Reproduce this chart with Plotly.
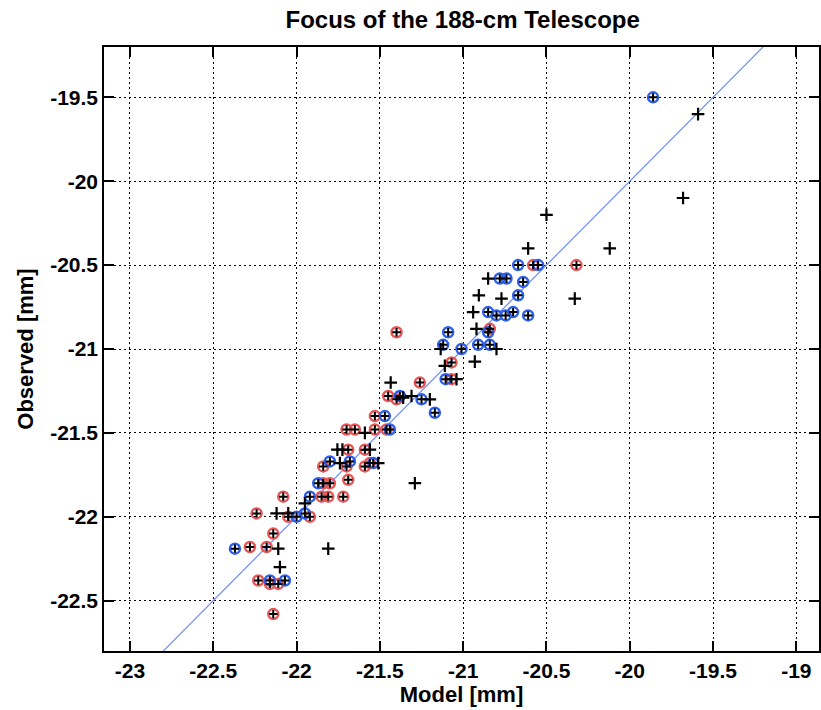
import plotly.graph_objects as go

# Points circled in red: model [mm], observed [mm]
red_model = [-22.28, -22.18, -22.23, -22.16, -22.11, -22.14, -22.14, -22.24, -22.05, -21.92,
             -22.08, -21.85, -21.81, -21.72, -21.80, -21.84, -21.69, -21.84, -21.70, -21.59,
             -21.56, -21.69, -21.59, -21.70, -21.65, -21.53, -21.46, -21.53, -21.45, -21.40,
             -21.26, -21.40, -21.07, -21.07, -20.84, -20.58, -20.32]
red_obs = [-22.18, -22.18, -22.38, -22.40, -22.40, -22.58, -22.10, -21.98, -22.00, -22.00,
           -21.88, -21.88, -21.88, -21.88, -21.80, -21.80, -21.78, -21.70, -21.70, -21.70,
           -21.68, -21.60, -21.60, -21.48, -21.48, -21.48, -21.48, -21.40, -21.28, -21.30,
           -21.20, -20.90, -21.08, -21.18, -20.88, -20.50, -20.50]

# Points circled in blue
blue_model = [-22.37, -22.16, -22.07, -22.00, -21.95, -21.92, -21.87, -21.80, -21.68, -21.54,
              -21.44, -21.47, -21.38, -21.25, -21.17, -21.105, -21.09, -21.12, -21.01, -20.91,
              -20.84, -20.85, -20.85, -20.80, -20.745, -20.70, -20.61, -20.67, -20.64, -20.78,
              -20.74, -20.67, -20.55, -19.86]
blue_obs = [-22.19, -22.38, -22.38, -22.00, -21.98, -21.88, -21.80, -21.67, -21.67, -21.68,
            -21.48, -21.40, -21.28, -21.30, -21.38, -21.18, -20.90, -20.975, -21.00, -20.975,
            -20.975, -20.90, -20.78, -20.80, -20.80, -20.78, -20.80, -20.68, -20.60, -20.58,
            -20.58, -20.50, -20.50, -19.50]

# Points without a circle
plain_model = [-22.11, -21.81, -22.10, -22.12, -22.05, -21.95, -21.755, -21.725, -21.56, -21.74,
               -21.51, -21.59, -21.29, -21.435, -21.36, -21.31, -21.20, -21.135, -21.11, -21.04,
               -20.93, -20.80, -20.92, -20.94, -20.906, -20.77, -20.85, -20.61, -20.50, -20.33,
               -20.12, -19.68, -19.59]
plain_obs = [-22.19, -22.19, -22.30, -21.98, -21.98, -21.92, -21.60, -21.60, -21.60, -21.68,
             -21.68, -21.50, -21.80, -21.20, -21.29, -21.28, -21.30, -21.00, -21.10, -21.18,
             -21.075, -21.00, -20.88, -20.78, -20.68, -20.70, -20.58, -20.40, -20.20, -20.70,
             -20.40, -20.10, -19.60]

# 1:1 reference line
line_x = [-23.3, -18.7]
line_y = [-23.3, -18.7]

x_ticks = [-23, -22.5, -22, -21.5, -21, -20.5, -20, -19.5, -19]
x_ticktext = ["-23", "-22.5", "-22", "-21.5", "-21", "-20.5", "-20", "-19.5", "-19"]
y_ticks = [-22.5, -22, -21.5, -21, -20.5, -20, -19.5]
y_ticktext = ["-22.5", "-22", "-21.5", "-21", "-20.5", "-20", "-19.5"]

circled_model = red_model + blue_model

fig = go.Figure()
fig.add_trace(go.Scatter(x=line_x, y=line_y, mode="lines",
                         line=dict(color="rgb(110,140,255)", width=1.2), hoverinfo="skip"))
fig.add_trace(go.Scatter(x=red_model, y=red_obs, mode="markers",
                         marker=dict(symbol="circle-open", size=10,
                                     line=dict(color="rgb(232,85,85)", width=2.5),
                                     color="rgb(232,85,85)")))
fig.add_trace(go.Scatter(x=blue_model, y=blue_obs, mode="markers",
                         marker=dict(symbol="circle-open", size=10,
                                     line=dict(color="rgb(45,95,235)", width=2.5),
                                     color="rgb(45,95,235)")))
# small black centre marks for circled points
fig.add_trace(go.Scatter(x=red_model + blue_model, y=red_obs + blue_obs, mode="markers",
                         marker=dict(symbol="cross-thin", size=6,
                                     line=dict(color="black", width=2), color="black")))
# black plus marks for uncircled points
fig.add_trace(go.Scatter(x=plain_model, y=plain_obs, mode="markers",
                         marker=dict(symbol="cross-thin", size=9,
                                     line=dict(color="black", width=2.2), color="black")))

font_family = "Liberation Sans, Arial, sans-serif"
axis_common = dict(
    showline=True, linecolor="black", linewidth=1.5, mirror="ticks",
    ticks="inside", ticklen=10, tickwidth=1.5, tickcolor="black",
    showgrid=True, gridcolor="black", gridwidth=1, griddash="2px,3px",
    zeroline=False,
    tickfont=dict(family=font_family, size=21, color="black", weight="bold"),
)

fig.update_layout(
    width=821, height=710,
    margin=dict(l=104, r=0, t=47, b=59),
    paper_bgcolor="white", plot_bgcolor="white",
    showlegend=False,
    title=dict(text="Focus of the 188-cm Telescope", x=0.5635, xanchor="center",
               y=0.972, yanchor="middle",
               font=dict(family=font_family, size=24, color="black", weight="bold")),
    xaxis=dict(range=[-23.156, -18.864], tickvals=x_ticks, ticktext=x_ticktext,
               title=dict(text="Model [mm]", standoff=5,
                          font=dict(family=font_family, size=22, color="black", weight="bold")),
               **axis_common),
    yaxis=dict(range=[-22.8, -19.2], tickvals=y_ticks, ticktext=y_ticktext,
               title=dict(text="Observed [mm]", standoff=10,
                          font=dict(family=font_family, size=22, color="black", weight="bold")),
               **axis_common),
)

fig.write_html("out.html")
